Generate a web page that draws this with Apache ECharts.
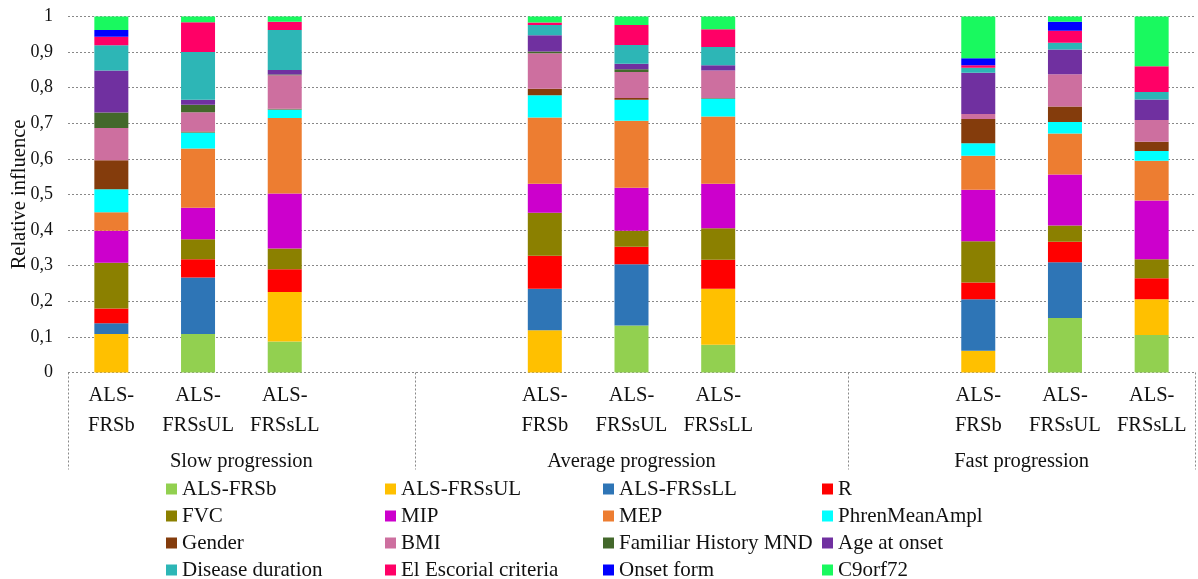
<!DOCTYPE html>
<html>
<head>
<meta charset="utf-8">
<script src="https://cdn.jsdelivr.net/npm/echarts@6/dist/echarts.min.js"></script>
<style>
html,body{margin:0;padding:0;background:#fff;}
#chart{width:1198px;height:579px;}
</style>
</head>
<body>
<div id="chart"></div>
<script>
// Bar order: Slow(b, sUL, sLL), Average(b, sUL, sLL), Fast(b, sUL, sLL)
const barLabels = ["ALS-\nFRSb", "ALS-\nFRSsUL", "ALS-\nFRSsLL"];
const groupLabels = ["Slow progression", "Average progression", "Fast progression"];
const yTicks = ["0","0,1","0,2","0,3","0,4","0,5","0,6","0,7","0,8","0,9","1"];

const seriesNames = ["ALS-FRSb","ALS-FRSsUL","ALS-FRSsLL","R","FVC","MIP","MEP","PhrenMeanAmpl",
  "Gender","BMI","Familiar History MND","Age at onset","Disease duration","El Escorial criteria","Onset form","C9orf72"];
const seriesColors = ["#92d050","#ffc000","#2e75b6","#ff0000","#8b8000","#cc00cc","#ed7d31","#00ffff",
  "#843c0c","#cd6f9f","#43682b","#7030a0","#2db6b6","#ff0066","#0000ff","#19f95f"];

const alsFRSb     = [0,     0.108, 0.087, 0,     0.132, 0.078, 0,     0.153, 0.105];
const alsFRSsUL   = [0.108, 0,     0.139, 0.119, 0,     0.157, 0.061, 0,     0.101];
const alsFRSsLL   = [0.030, 0.159, 0,     0.116, 0.172, 0,     0.145, 0.157, 0];
const rVals       = [0.042, 0.051, 0.064, 0.093, 0.049, 0.082, 0.047, 0.057, 0.059];
const fvc         = [0.128, 0.056, 0.058, 0.121, 0.045, 0.088, 0.116, 0.046, 0.053];
const mip         = [0.090, 0.089, 0.155, 0.081, 0.121, 0.125, 0.144, 0.143, 0.165];
const mep         = [0.052, 0.166, 0.212, 0.186, 0.188, 0.189, 0.096, 0.115, 0.112];
const phren       = [0.065, 0.045, 0.024, 0.063, 0.059, 0.051, 0.035, 0.033, 0.027];
const gender      = [0.081, 0.003, 0.002, 0.018, 0.005, 0.001, 0.068, 0.043, 0.026];
const bmi         = [0.091, 0.054, 0.094, 0.100, 0.073, 0.077, 0.014, 0.091, 0.061];
const familiar    = [0.043, 0.021, 0.002, 0.005, 0.008, 0,     0,     0,     0];
const ageOnset    = [0.118, 0.014, 0.013, 0.045, 0.015, 0.015, 0.116, 0.069, 0.058];
const disease     = [0.071, 0.134, 0.112, 0.029, 0.053, 0.051, 0.014, 0.019, 0.021];
const elEscorial  = [0.024, 0.084, 0.023, 0.007, 0.056, 0.050, 0.007, 0.034, 0.072];
const onsetForm   = [0.019, 0,     0,     0,     0,     0,     0.020, 0.025, 0];
const c9orf72     = [0.038, 0.017, 0.017, 0.017, 0.024, 0.036, 0.117, 0.015, 0.140];

const allValues = [alsFRSb, alsFRSsUL, alsFRSsLL, rVals, fvc, mip, mep, phren,
  gender, bmi, familiar, ageOnset, disease, elEscorial, onsetForm, c9orf72];

// 13 category slots: Slow = 4 slots (3 bars + gap), Average = 5 (gap, 3 bars, gap), Fast = 4 (gap + 3 bars)
const slotMap = [0,1,2,null,null,3,4,5,null,null,6,7,8];
const categories = slotMap.map(i => i === null ? "" : barLabels[i % 3]);

const FONT = "Liberation Serif";

const series = seriesNames.map((name, s) => ({
  name: name,
  type: 'bar',
  stack: 'total',
  barWidth: 34,
  xAxisIndex: 0,
  itemStyle: {color: seriesColors[s]},
  data: slotMap.map(i => i === null ? null : allValues[s][i])
}));

function legendCol(col, left) {
  const names = [];
  for (let r = 0; r < 4; r++) names.push(seriesNames[r*4 + col]);
  return {
    orient: 'vertical', left: left, top: 478.5, itemGap: 6, height: 140,
    itemWidth: 11, itemHeight: 11, icon: 'rect', padding: 0,
    textStyle: {fontFamily: FONT, fontSize: 21, color: '#111', lineHeight: 19},
    data: names, selectedMode: false
  };
}

const chart = echarts.init(document.getElementById('chart'), null, {renderer:'canvas'});
chart.setOption({
  animation: false,
  backgroundColor: '#fff',
  grid: {left:68, right:3, top:16.5, bottom:206.5, containLabel:false, outerBoundsMode:'none'},
  legend: [legendCol(0,166), legendCol(1,385), legendCol(2,603), legendCol(3,822)],
  xAxis: [{
    type: 'category',
    data: categories,
    axisLine: {show: false},
    axisTick: {show: false},
    axisLabel: {interval: 0, fontFamily: FONT, fontSize: 20.5, color: '#111', lineHeight: 30, margin: 8}
  }, {
    type: 'value',
    min: 0, max: 13,
    position: 'bottom',
    axisLine: {show: false},
    splitLine: {show: false},
    axisTick: {show: true, customValues: [0, 4, 9, 13], length: 97,
      lineStyle: {color: '#888', type: [2, 2], width: 1}},
    axisLabel: {show: true, customValues: [2, 6.5, 11], margin: 79,
      fontFamily: FONT, fontSize: 20.5, color: '#111',
      formatter: v => v === 2 ? groupLabels[0] : (v === 6.5 ? groupLabels[1] : groupLabels[2])}
  }],
  yAxis: {
    type: 'value', min: 0, max: 1, interval: 0.1,
    name: 'Relative influence', nameLocation: 'middle', nameGap: 38, nameMoveOverlap: false,
    nameTextStyle: {fontFamily: FONT, fontSize: 20.5, color: '#111'},
    axisLine: {show: false}, axisTick: {show: false},
    axisLabel: {fontFamily: FONT, fontSize: 18, color: '#111', margin: 15,
      formatter: v => yTicks[Math.round(v * 10)]},
    splitLine: {show: true, lineStyle: {color: '#888', type: [2, 2], width: 1}}
  },
  series: series
});
</script>
</body>
</html>
